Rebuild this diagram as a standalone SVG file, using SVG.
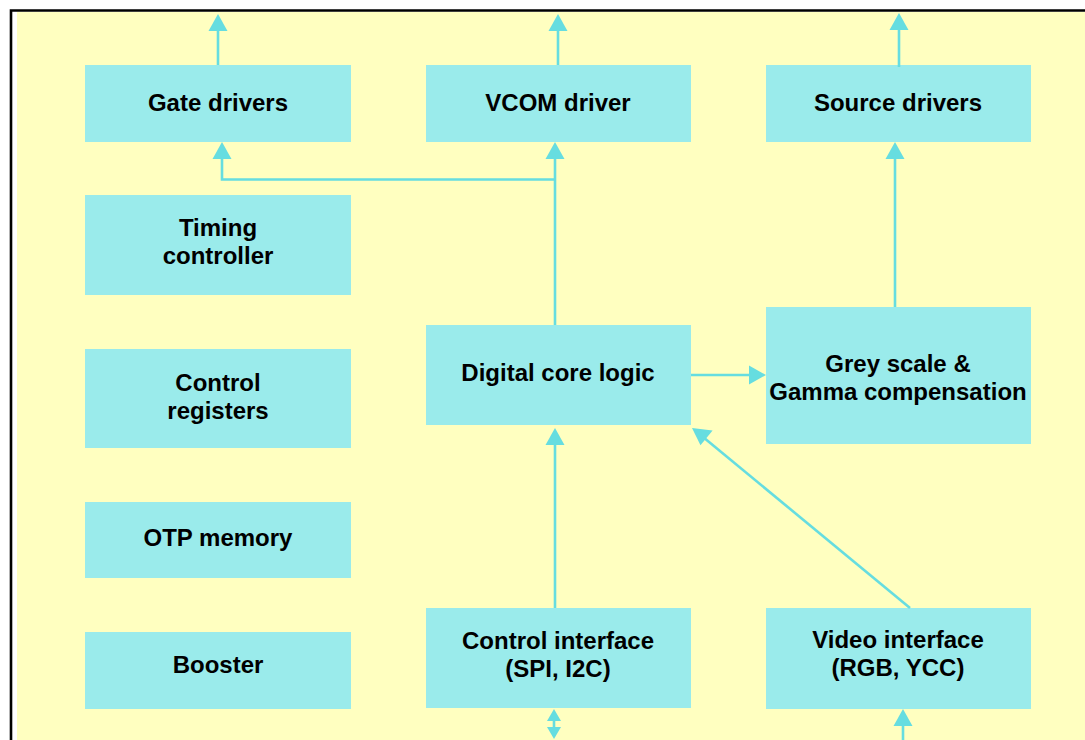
<svg xmlns="http://www.w3.org/2000/svg" width="1085" height="740" viewBox="0 0 1085 740">
<style>
.box{fill:#9AEBEB;}
.t{font-family:"Liberation Sans",Arial,sans-serif;font-weight:bold;font-size:24px;fill:#000;text-anchor:middle;}
.ln{stroke:#66DDE0;stroke-width:2.6;fill:none;}
.hd{fill:#66DDE0;}
</style>
<rect x="0" y="0" width="1085" height="740" fill="#ffffff"/>
<rect x="17" y="12" width="1068" height="728" fill="#FFFFC0"/>
<path d="M11,740 V10.5 H1085" fill="none" stroke="#000" stroke-width="2.6"/>

<g id="gate-drivers"><rect class="box" x="85" y="65" width="266" height="77"/><text class="t" x="218" y="111">Gate drivers</text></g>
<g id="vcom-driver"><rect class="box" x="426" y="65" width="265" height="77"/><text class="t" x="558" y="111">VCOM driver</text></g>
<g id="source-drivers"><rect class="box" x="766" y="65" width="265" height="77"/><text class="t" x="898" y="111">Source drivers</text></g>
<g id="timing-controller"><rect class="box" x="85" y="195" width="266" height="100"/><text class="t" x="218" y="236">Timing</text><text class="t" x="218" y="264">controller</text></g>
<g id="control-registers"><rect class="box" x="85" y="349" width="266" height="99"/><text class="t" x="218" y="391">Control</text><text class="t" x="218" y="419">registers</text></g>
<g id="otp-memory"><rect class="box" x="85" y="502" width="266" height="76"/><text class="t" x="218" y="546">OTP memory</text></g>
<g id="booster"><rect class="box" x="85" y="632" width="266" height="77"/><text class="t" x="218" y="673">Booster</text></g>
<g id="digital-core"><rect class="box" x="426" y="325" width="265" height="100"/><text class="t" x="558" y="381">Digital core logic</text></g>
<g id="grey-scale"><rect class="box" x="766" y="307" width="265" height="137"/><text class="t" x="898" y="372">Grey scale &amp;</text><text class="t" x="898" y="400">Gamma compensation</text></g>
<g id="control-interface"><rect class="box" x="426" y="608" width="265" height="100"/><text class="t" x="558" y="649">Control interface</text><text class="t" x="558" y="677">(SPI, I2C)</text></g>
<g id="video-interface"><rect class="box" x="766" y="608" width="265" height="101"/><text class="t" x="898" y="648">Video interface</text><text class="t" x="898" y="676">(RGB, YCC)</text></g>

<g id="connectors">
<line class="ln" x1="218" y1="65" x2="218" y2="30"/><polygon class="hd" points="218,14 208.5,31 227.5,31"/>
<line class="ln" x1="558" y1="65" x2="558" y2="30"/><polygon class="hd" points="558,14 548.5,31 567.5,31"/>
<line class="ln" x1="899" y1="67" x2="899" y2="30"/><polygon class="hd" points="899,13 889.5,30 908.5,30"/>
<path class="ln" d="M555,325 V158"/><polygon class="hd" points="555,142 545.5,159 564.5,159"/>
<path class="ln" d="M555,179.5 H222 V158"/><polygon class="hd" points="222,142 212.5,159 231.5,159"/>
<line class="ln" x1="895" y1="307" x2="895" y2="158"/><polygon class="hd" points="895,142 885.5,159 904.5,159"/>
<line class="ln" x1="691" y1="375" x2="751" y2="375"/><polygon class="hd" points="766,375 749,365.5 749,384.5"/>
<line class="ln" x1="555" y1="608" x2="555" y2="444"/><polygon class="hd" points="555,428 545.5,445 564.5,445"/>
<line class="ln" x1="910" y1="608" x2="703" y2="437"/><polygon class="hd" points="692,428 700.5,445.2 712.6,430.6"/>
<line class="ln" x1="554" y1="718" x2="554" y2="730"/><polygon class="hd" points="554,709 547,721 561,721"/><polygon class="hd" points="554,739 547,727 561,727"/>
<line class="ln" x1="903" y1="725" x2="903" y2="740"/><polygon class="hd" points="903,709 893.5,726 912.5,726"/>
</g>
</svg>
